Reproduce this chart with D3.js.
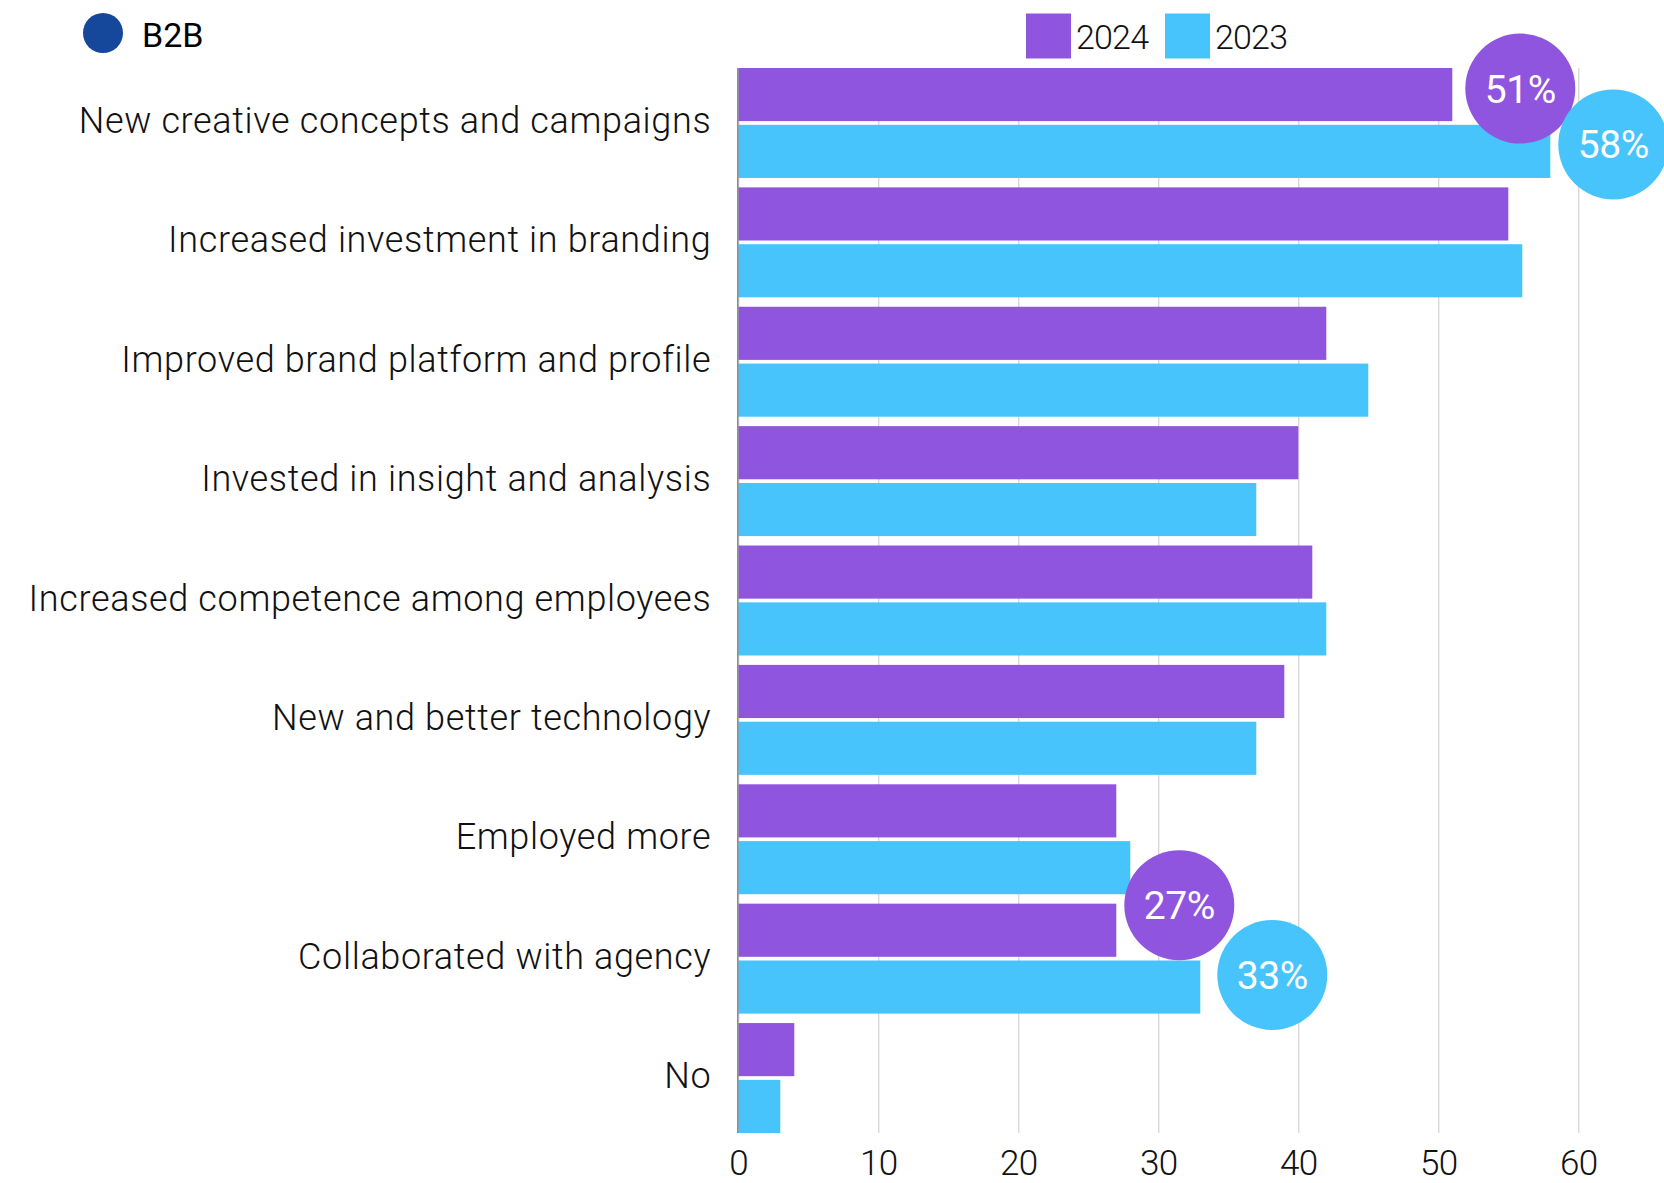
<!DOCTYPE html>
<html>
<head>
<meta charset="utf-8">
<script src="https://cdn.jsdelivr.net/npm/d3@7"></script>
<style>
  html, body { margin: 0; padding: 0; background: #ffffff; }
  svg { display: block; }
</style>
</head>
<body>
<svg id="chart" width="1664" height="1183"></svg>
<script>
// Survey answers, one row per category (B2B respondents, % per year)
const categories = [
  "New creative concepts and campaigns",
  "Increased investment in branding",
  "Improved brand platform and profile",
  "Invested in insight and analysis",
  "Increased competence among employees",
  "New and better technology",
  "Employed more",
  "Collaborated with agency",
  "No"
];
const seriesNames = ["2024", "2023"];
const values2024 = [51, 55, 42, 40, 41, 39, 27, 27, 4];
const values2023 = [58, 56, 45, 37, 42, 37, 28, 33, 3];
const xTicks = [0, 10, 20, 30, 40, 50, 60];
const segmentLabel = "B2B";

// Highlighted bars that get a round value badge
const callouts = [
  { category: 0, series: "2024" },
  { category: 0, series: "2023" },
  { category: 7, series: "2024" },
  { category: 7, series: "2023" }
];

const seriesValues = { "2024": values2024, "2023": values2023 };
const colors = { "2024": "#9055de", "2023": "#48c4fd" };
const FONT = "Roboto, 'Noto Sans', sans-serif";

// Badge placement relative to the end / centre of its bar
const badgeOffsets = [
  { dx: 68, dy: -6 },
  { dx: 63, dy: -7 },
  { dx: 63, dy: -25 },
  { dx: 72, dy: -12 }
];

const svg = d3.select("#chart");

const plotTop = 68, plotBottom = 1133;
const x = d3.scaleLinear().domain([0, 60]).range([738.3, 1578.3]);
const y = d3.scaleBand().domain(categories).range([plotTop, plotBottom])
  .paddingInner(0.079).paddingOuter(0);
const ySub = d3.scaleBand().domain(seriesNames).range([0, y.bandwidth()])
  .paddingInner(0.065);

// Vertical grid + tick labels
const axis = d3.axisBottom(x)
  .tickValues(xTicks)
  .tickFormat(d3.format("d"))
  .tickSize(-(plotBottom - plotTop))
  .tickPadding(17);

const axisG = svg.append("g")
  .attr("transform", `translate(0,${plotBottom})`)
  .call(axis);
axisG.select(".domain").remove();
axisG.selectAll(".tick line").attr("stroke", "#c9c9c9").attr("stroke-width", 1);
axisG.selectAll(".tick text")
  .attr("font-family", FONT)
  .attr("font-weight", 300)
  .attr("font-size", 35)
  .attr("letter-spacing", -0.5)
  .attr("fill", "#111");

// Bars
const rows = svg.append("g").selectAll("g")
  .data(categories)
  .join("g")
  .attr("transform", d => `translate(0,${y(d)})`);

rows.selectAll("rect")
  .data((c, i) => seriesNames.map(s => ({ series: s, value: seriesValues[s][i] })))
  .join("rect")
  .attr("x", x(0))
  .attr("y", d => ySub(d.series))
  .attr("width", d => x(d.value) - x(0))
  .attr("height", ySub.bandwidth())
  .attr("fill", d => colors[d.series]);

// Zero line
svg.append("line")
  .attr("x1", x(0) - 0.5).attr("x2", x(0) - 0.5)
  .attr("y1", plotTop).attr("y2", plotBottom)
  .attr("stroke", "#8a8a8a").attr("stroke-width", 1.5);

// Category labels
svg.append("g").selectAll("text")
  .data(categories)
  .join("text")
  .attr("x", x(0) - 27)
  .attr("y", d => y(d) + y.bandwidth() / 2)
  .attr("dy", 10)
  .attr("text-anchor", "end")
  .attr("font-family", FONT)
  .attr("font-weight", 300)
  .attr("font-size", 36)
  .attr("letter-spacing", 0.65)
  .attr("fill", "#111")
  .text(d => d);

// Value badges
const badges = svg.append("g").selectAll("g")
  .data(callouts)
  .join("g")
  .attr("transform", (d, i) => {
    const v = seriesValues[d.series][d.category];
    const cy = y(categories[d.category]) + ySub(d.series) + ySub.bandwidth() / 2;
    return `translate(${x(v) + badgeOffsets[i].dx},${cy + badgeOffsets[i].dy})`;
  });
badges.append("circle")
  .attr("r", 55)
  .attr("fill", d => colors[d.series]);
badges.append("text")
  .attr("text-anchor", "middle")
  .attr("dy", "0.36em")
  .attr("font-family", FONT)
  .attr("font-weight", 400)
  .attr("font-size", 39)
  .attr("letter-spacing", -0.5)
  .attr("fill", "#ffffff")
  .text(d => seriesValues[d.series][d.category] + "%");

// Legend
const legendPos = { "2024": 1026, "2023": 1165 };
const legend = svg.append("g").selectAll("g")
  .data(seriesNames)
  .join("g")
  .attr("transform", d => `translate(${legendPos[d]},13.5)`);
legend.append("rect")
  .attr("width", 45).attr("height", 45)
  .attr("fill", d => colors[d]);
legend.append("text")
  .attr("x", 50).attr("y", 35.5)
  .attr("font-family", FONT)
  .attr("font-weight", 300)
  .attr("font-size", 34)
  .attr("letter-spacing", -0.8)
  .attr("fill", "#111")
  .text(d => d);

// Segment tag
svg.append("circle")
  .attr("cx", 103).attr("cy", 33).attr("r", 20)
  .attr("fill", "#15479b");
svg.append("text")
  .attr("x", 142).attr("y", 46.5)
  .attr("font-family", FONT)
  .attr("font-weight", 400)
  .attr("font-size", 34)
  .attr("fill", "#000")
  .text(segmentLabel);
</script>
</body>
</html>
